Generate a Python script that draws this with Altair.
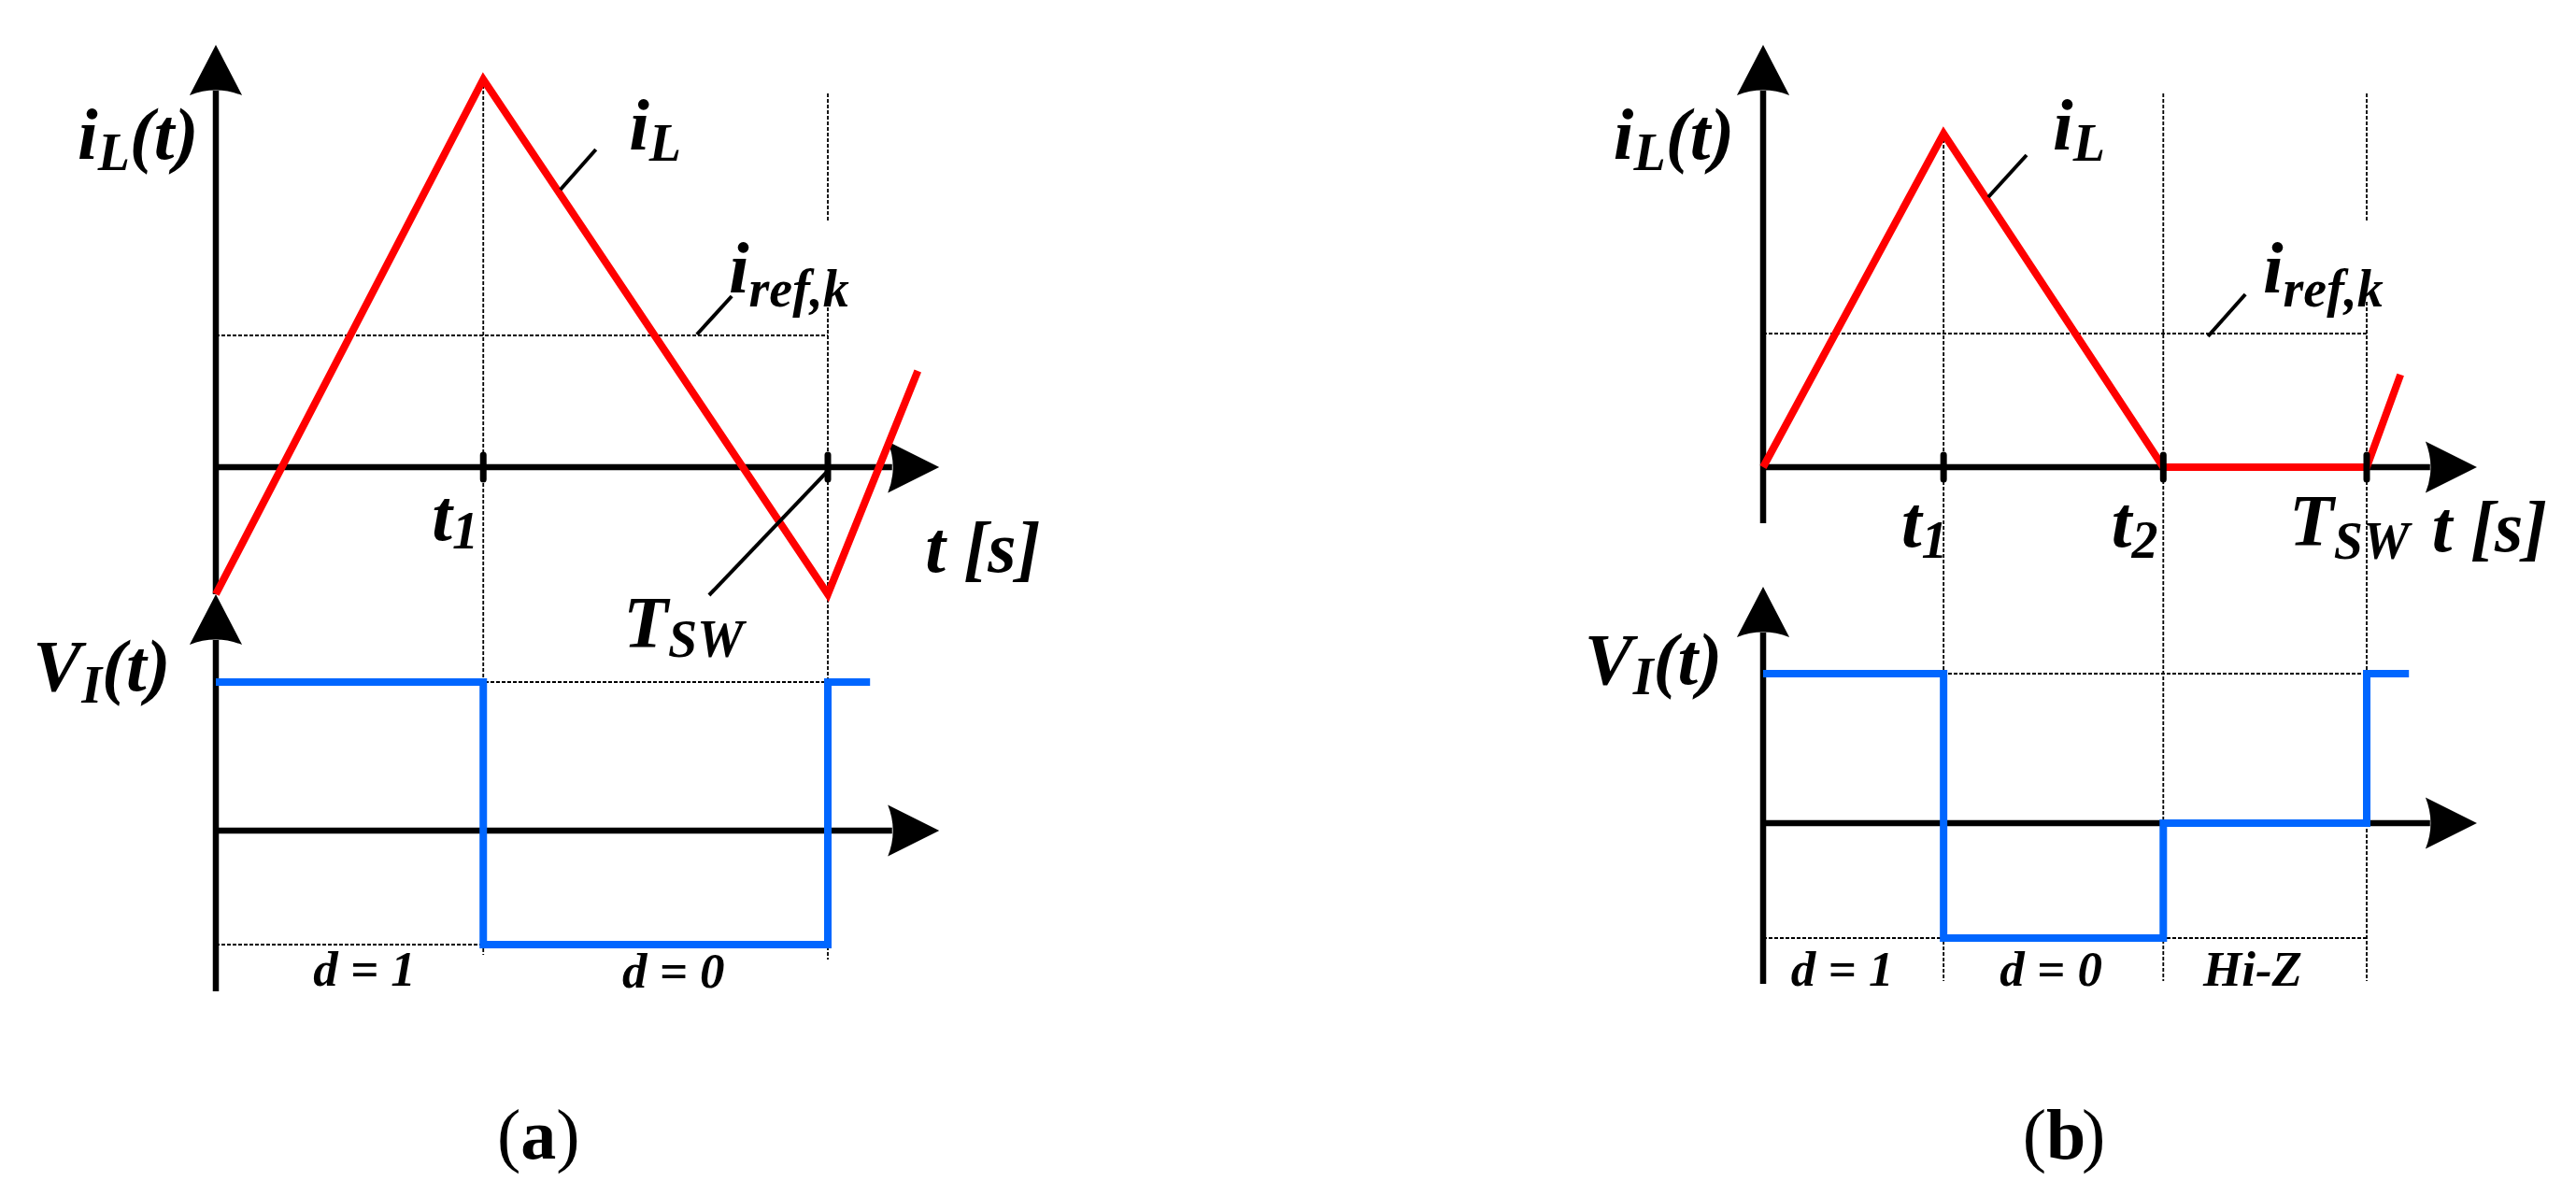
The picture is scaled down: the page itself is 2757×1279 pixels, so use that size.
import altair as alt
import pandas as pd

# ---------------- values ----------------
# time is normalised to the switching period (T_SW = 1); levels are schematic units
# Panel (a): continuous conduction
A_T_IL = [0.0, 0.437, 1.0, 1.147]
A_IL = [-1.36, 4.15, -1.36, 1.03]
A_IREF = 1.41
A_T_VI = [0.0, 0.437, 0.437, 1.0, 1.0, 1.069]
A_VI = [1.59, 1.59, -1.22, -1.22, 1.59, 1.59]
A_TICKS = [0.437, 1.0]

# Panel (b): discontinuous conduction with Hi-Z interval
B_T_IL = [0.0, 0.299, 0.663, 1.0, 1.056]
B_IL = [0.0, 3.57, 0.0, 0.0, 0.99]
B_IREF = 1.43
B_T_VI = [0.0, 0.299, 0.299, 0.663, 0.663, 1.0, 1.0, 1.07]
B_VI = [1.60, 1.60, -1.23, -1.23, 0.0, 0.0, 1.60, 1.60]
B_TICKS = [0.299, 0.663, 1.0]

# ---------------- layout ----------------
PANEL_W = 1370
PANEL_H = 1262
PX_PER_LEVEL = 100.0
LEVEL_TOP = 4.92
LAYOUT = {
    "a": dict(x0=231, pxt=655.0, vbase=-3.89, left=8),
    "b": dict(x0=1887, pxt=646.0, vbase=-3.81, left=8 + PANEL_W),
}
RED = "#FF0000"
BLUE = "#0066FF"
FONT = "Liberation Serif"
M, S, D, C = 78, 56, 53, 76

ADV = {"i": .278, "L": .611, "(": .333, "t": .278, ")": .333, "T": .611, "S": .556,
       "W": .889, "r": .389, "e": .444, "f": .333, ",": .25, "k": .5, "d": .5,
       " ": .25, "=": .57, "0": .5, "1": .5, "2": .5, "[": .333, "s": .389,
       "]": .333, "V": .667, "I": .389, "H": .778, "-": .333, "Z": .611, "a": .5, "b": .5}

UP = "M0,-1 L1.04,1 Q0,0.6 -1.04,1 Z"
RIGHT = "M1,0 L-1,1 Q-0.6,0 -1,-1 Z"


def text_rows(t0, v0, runs, pxt):
    rows, off = [], 0.0
    for r in runs:
        text, size, dy = r[0], r[1], r[2]
        style = r[3] if len(r) > 3 else "bi"
        rows.append({"text": text, "t": t0 + off / pxt, "v": v0 - dy / PX_PER_LEVEL,
                     "size": size, "style": style})
        off += sum(ADV.get(c, 0.5) for c in text) * size
    return rows


def build(key, t_il, il, iref, t_vi, vi, ticks, dotted, leaders, labels, i_axis_bottom):
    L = LAYOUT[key]
    vb = L["vbase"]
    xs = alt.Scale(domain=[(L["left"] - L["x0"]) / L["pxt"],
                           (L["left"] + PANEL_W - L["x0"]) / L["pxt"]], nice=False, zero=False)
    ys = alt.Scale(domain=[LEVEL_TOP - PANEL_H / PX_PER_LEVEL, LEVEL_TOP], nice=False, zero=False)

    def X(f):
        return alt.X(f, type="quantitative", scale=xs, axis=None)

    def Y(f):
        return alt.Y(f, type="quantitative", scale=ys, axis=None)

    def rules(segs):
        return pd.DataFrame(segs, columns=["t", "v", "t2", "v2"])

    enc_rule = dict(x=X("t"), y=Y("v"), x2=alt.X2("t2"), y2=alt.Y2("v2"))

    axis_end = 1.105
    axes = rules([
        (0, i_axis_bottom, 0, 4.03),
        (0, 0, axis_end, 0),
        (0, vb - 1.72, 0, vb + 2.04),
        (0, vb, axis_end, vb),
    ])
    up = pd.DataFrame({"t": [0, 0], "v": [4.25, vb + 2.26]})
    right = pd.DataFrame({"t": [1.14, 1.14], "v": [0, vb]})

    dots = rules(dotted + [
        (0, iref, 1, iref),
        (0, vb + max(vi), 1, vb + max(vi)),
        (0, vb + min(vi), 1, vb + min(vi)),
    ])
    red = pd.DataFrame({"t": t_il, "v": il, "o": range(len(il))})
    blue = pd.DataFrame({"t": t_vi, "v": [vb + v for v in vi], "o": range(len(vi))})
    tk = rules([(t, 0.13, t, -0.13) for t in ticks])
    ld = rules(leaders)

    rows = []
    for t0, v0, runs in labels:
        rows += text_rows(t0, v0, runs, L["pxt"])
    txt = pd.DataFrame(rows)

    layers = [
        alt.Chart(dots).mark_rule(color="black", strokeWidth=1.8, strokeDash=[4, 2]).encode(**enc_rule),
        alt.Chart(axes).mark_rule(color="black", strokeWidth=6.5).encode(**enc_rule),
        alt.Chart(up).mark_point(shape=UP, size=2916, filled=True, color="black", opacity=1,
                                 strokeWidth=0).encode(x=X("t"), y=Y("v")),
        alt.Chart(right).mark_point(shape=RIGHT, size=3025, filled=True, color="black", opacity=1,
                                    strokeWidth=0).encode(x=X("t"), y=Y("v")),
        alt.Chart(blue).mark_line(color=BLUE, strokeWidth=8, strokeJoin="miter").encode(
            x=X("t"), y=Y("v"), order=alt.Order("o:Q")),
        alt.Chart(red).mark_line(color=RED, strokeWidth=8, strokeJoin="miter").encode(
            x=X("t"), y=Y("v"), order=alt.Order("o:Q")),
        alt.Chart(tk).mark_rule(color="black", strokeWidth=7, strokeCap="round").encode(**enc_rule),
        alt.Chart(ld).mark_rule(color="black", strokeWidth=4).encode(**enc_rule),
    ]
    styles = {"bi": dict(fontStyle="italic", fontWeight="bold"),
              "b": dict(fontStyle="normal", fontWeight="bold"),
              "r": dict(fontStyle="normal", fontWeight="normal")}
    for st, kw in styles.items():
        sub = txt[txt["style"] == st]
        if len(sub):
            layers.append(alt.Chart(sub).mark_text(align="left", baseline="alphabetic", font=FONT,
                                                   color="black", **kw).encode(
                x=X("t"), y=Y("v"), text="text:N", size=alt.Size("size:Q", scale=None)))
    return alt.layer(*layers).properties(width=PANEL_W, height=PANEL_H)


vba = LAYOUT["a"]["vbase"]
vbb = LAYOUT["b"]["vbase"]

panel_a = build(
    "a", A_T_IL, A_IL, A_IREF, A_T_VI, A_VI, A_TICKS,
    dotted=[(0.437, 4.15, 0.437, vba - 1.33), (1.0, 4.0, 1.0, 2.63), (1.0, 1.77, 1.0, vba - 1.38)],
    leaders=[(0.621, 3.40, 0.563, 2.97), (0.843, 1.83, 0.786, 1.42), (1.0, -0.04, 0.806, -1.37)],
    labels=[
        (-0.226, 3.30, [("i", M, 0), ("L", S, 12), ("(t)", M, 0)]),
        (0.675, 3.40, [("i", M, 0), ("L", S, 12)]),
        (0.838, 1.87, [("i", M, 0), ("ref,k", S, 15)]),
        (0.353, -0.78, [("t", M, 0), ("1", S, 9)]),
        (0.666, -1.92, [("T", M, 0), ("SW", S, 11)]),
        (1.159, -1.12, [("t [s]", M, 0)]),
        (-0.299, vba + 1.50, [("V", M, 0), ("I", S, 13), ("(t)", M, 0)]),
        (0.159, vba - 1.66, [("d = 1", D, 0)]),
        (0.664, vba - 1.68, [("d = 0", D, 0)]),
        (0.4595, -7.40, [("(", C, 0, "r"), ("a", C, 0, "b"), (")", C, 0, "r")]),
    ],
    i_axis_bottom=-1.36,
)

panel_b = build(
    "b", B_T_IL, B_IL, B_IREF, B_T_VI, B_VI, B_TICKS,
    dotted=[(0.299, 3.57, 0.299, vbb - 1.69), (0.663, 4.0, 0.663, vbb - 1.69),
            (1.0, 4.0, 1.0, 2.63), (1.0, 1.77, 1.0, vbb - 1.69)],
    leaders=[(0.4365, 3.34, 0.373, 2.89), (0.799, 1.85, 0.737, 1.40)],
    labels=[
        (-0.248, 3.30, [("i", M, 0), ("L", S, 12), ("(t)", M, 0)]),
        (0.480, 3.40, [("i", M, 0), ("L", S, 12)]),
        (0.828, 1.87, [("i", M, 0), ("ref,k", S, 15)]),
        (0.229, -0.85, [("t", M, 0), ("1", S, 12)]),
        (0.577, -0.85, [("t", M, 0), ("2", S, 12)]),
        (0.8715, -0.83, [("T", M, 0), ("SW", S, 15)]),
        (1.108, -0.90, [("t [s]", M, 0)]),
        (-0.296, vbb + 1.49, [("V", M, 0), ("I", S, 11), ("(t)", M, 0)]),
        (0.046, vbb - 1.74, [("d = 1", D, 0)]),
        (0.392, vbb - 1.74, [("d = 0", D, 0)]),
        (0.729, vbb - 1.74, [("Hi-Z", D, 0)]),
        (0.430, -7.40, [("(", C, 0, "r"), ("b", C, 0, "b"), (")", C, 0, "r")]),
    ],
    i_axis_bottom=-0.60,
)

chart = alt.hconcat(panel_a, panel_b, spacing=0, bounds="flush").properties(
    padding=0
).configure_view(stroke=None)

chart.save("out.html", embed_options={"renderer": "svg", "actions": False})
